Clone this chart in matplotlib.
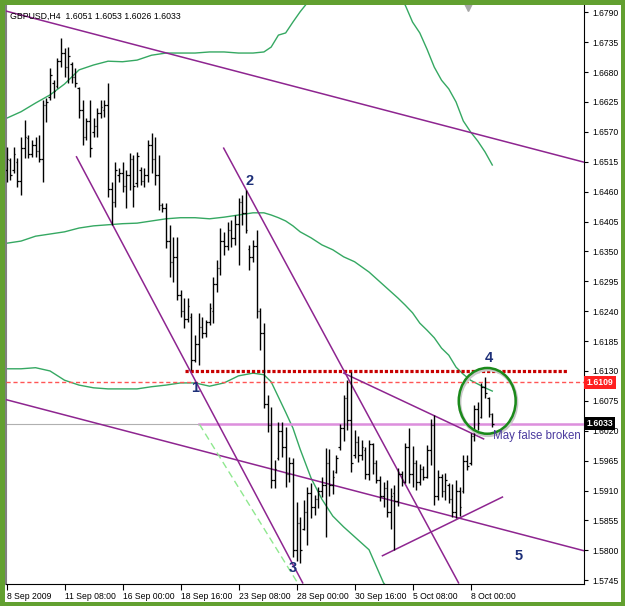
import matplotlib
matplotlib.use("Agg")
import matplotlib.pyplot as plt
from matplotlib.patches import Ellipse, Rectangle
import matplotlib.transforms as mtransforms

plt.rcParams['font.family'] = ['Liberation Sans', 'DejaVu Sans']

# ---------------- data ----------------
title_text = "GBPUSD,H4  1.6051 1.6053 1.6026 1.6033"

opens = [1.6500, 1.6518, 1.6500, 1.6515, 1.6480, 1.6540, 1.6558, 1.6530, 1.6545, 1.6535,
         1.6520, 1.6620, 1.6635, 1.6660, 1.6655, 1.6700, 1.6715, 1.6690, 1.6695, 1.6670,
         1.6650, 1.6610, 1.6560, 1.6590, 1.6570, 1.6580, 1.6605, 1.6610, 1.6620, 1.6465,
         1.6440, 1.6490, 1.6495, 1.6470, 1.6490, 1.6520, 1.6475, 1.6500, 1.6480, 1.6490,
         1.6545, 1.6520, 1.6490, 1.6435, 1.6430, 1.6370, 1.6330, 1.6340, 1.6270, 1.6240,
         1.6225, 1.6230, 1.6150, 1.6180, 1.6210, 1.6200, 1.6220, 1.6240, 1.6290, 1.6320,
         1.6370, 1.6360, 1.6390, 1.6375, 1.6400, 1.6440, 1.6420, 1.6355, 1.6340, 1.6360,
         1.6240, 1.6200, 1.6070, 1.6030, 1.5930, 1.5970, 1.6020, 1.5990, 1.5940, 1.5960,
         1.5800, 1.5850, 1.5840, 1.5870, 1.5905, 1.5880, 1.5895, 1.5910, 1.5920, 1.5960,
         1.5920, 1.5945, 1.5990, 1.6025, 1.6080, 1.6040, 1.5975, 1.6000, 1.5975, 1.5985,
         1.5940, 1.5995, 1.5960, 1.5930, 1.5900, 1.5915, 1.5870, 1.5905, 1.5890, 1.5940,
         1.5925, 1.5990, 1.5940, 1.5960, 1.5925, 1.5950, 1.5935, 1.5985, 1.6030, 1.5900,
         1.5935, 1.5910, 1.5920, 1.5895, 1.5870, 1.5910, 1.5910, 1.5965, 1.5960, 1.6010,
         1.6060, 1.6045, 1.6100, 1.6080, 1.6051]
highs = [1.6542, 1.6522, 1.6542, 1.6522, 1.6561, 1.6592, 1.6564, 1.6555, 1.6561, 1.6564,
         1.6629, 1.6632, 1.6687, 1.6665, 1.6706, 1.6743, 1.6724, 1.6726, 1.6699, 1.6687,
         1.6653, 1.6629, 1.6595, 1.6629, 1.6595, 1.6614, 1.6629, 1.6629, 1.6660, 1.6478,
         1.6515, 1.6503, 1.6515, 1.6500, 1.6531, 1.6527, 1.6533, 1.6505, 1.6503, 1.6555,
         1.6568, 1.6561, 1.6527, 1.6439, 1.6439, 1.6399, 1.6377, 1.6377, 1.6279, 1.6264,
         1.6264, 1.6237, 1.6196, 1.6237, 1.6229, 1.6224, 1.6255, 1.6303, 1.6334, 1.6393,
         1.6386, 1.6404, 1.6408, 1.6417, 1.6448, 1.6454, 1.6463, 1.6362, 1.6371, 1.6389,
         1.6246, 1.6218, 1.6086, 1.6064, 1.5966, 1.6036, 1.6036, 1.6027, 1.5972, 1.5970,
         1.5889, 1.5861, 1.5893, 1.5917, 1.5924, 1.5902, 1.5917, 1.5935, 1.5988, 1.5986,
         1.5948, 1.5975, 1.6032, 1.6086, 1.6113, 1.6128, 1.6021, 1.6010, 1.6003, 1.5990,
         1.6003, 1.5997, 1.5966, 1.5937, 1.5926, 1.5929, 1.5915, 1.5920, 1.5952, 1.5946,
         1.5997, 1.6025, 1.5992, 1.5966, 1.5959, 1.5955, 1.5994, 1.6042, 1.6049, 1.5948,
         1.5940, 1.5942, 1.5924, 1.5922, 1.5929, 1.5917, 1.5975, 1.5975, 1.6016, 1.6067,
         1.6073, 1.6108, 1.6119, 1.6082, 1.6053]
lows = [1.6478, 1.6481, 1.6494, 1.6469, 1.6454, 1.6522, 1.6522, 1.6524, 1.6524, 1.6515,
        1.6478, 1.6588, 1.6629, 1.6632, 1.6651, 1.6689, 1.6671, 1.6660, 1.6660, 1.6653,
        1.6595, 1.6546, 1.6555, 1.6524, 1.6561, 1.6561, 1.6595, 1.6597, 1.6450, 1.6399,
        1.6432, 1.6478, 1.6459, 1.6430, 1.6463, 1.6432, 1.6469, 1.6472, 1.6469, 1.6478,
        1.6494, 1.6472, 1.6426, 1.6423, 1.6356, 1.6303, 1.6294, 1.6261, 1.6229, 1.6209,
        1.6220, 1.6132, 1.6147, 1.6141, 1.6191, 1.6192, 1.6215, 1.6218, 1.6275, 1.6307,
        1.6343, 1.6353, 1.6358, 1.6362, 1.6325, 1.6399, 1.6384, 1.6316, 1.6330, 1.6228,
        1.6169, 1.6062, 1.6018, 1.5915, 1.5915, 1.5966, 1.5972, 1.5917, 1.5926, 1.5788,
        1.5780, 1.5776, 1.5837, 1.5810, 1.5860, 1.5865, 1.5878, 1.5898, 1.5825, 1.5900,
        1.5904, 1.5942, 1.5985, 1.6001, 1.6021, 1.5944, 1.5970, 1.5962, 1.5966, 1.5931,
        1.5929, 1.5940, 1.5924, 1.5891, 1.5880, 1.5861, 1.5839, 1.5801, 1.5882, 1.5918,
        1.5924, 1.5924, 1.5917, 1.5911, 1.5920, 1.5929, 1.5933, 1.5957, 1.5883, 1.5893,
        1.5898, 1.5893, 1.5887, 1.5861, 1.5860, 1.5863, 1.5906, 1.5948, 1.5957, 1.6001,
        1.6021, 1.6043, 1.6080, 1.6045, 1.6026]
closes = [1.6520, 1.6490, 1.6530, 1.6480, 1.6540, 1.6560, 1.6530, 1.6545, 1.6535, 1.6520,
          1.6620, 1.6625, 1.6675, 1.6645, 1.6700, 1.6715, 1.6690, 1.6710, 1.6670, 1.6660,
          1.6610, 1.6560, 1.6590, 1.6540, 1.6580, 1.6605, 1.6615, 1.6620, 1.6465, 1.6440,
          1.6500, 1.6495, 1.6470, 1.6490, 1.6520, 1.6470, 1.6525, 1.6480, 1.6490, 1.6545,
          1.6520, 1.6490, 1.6435, 1.6430, 1.6370, 1.6330, 1.6340, 1.6270, 1.6240, 1.6225,
          1.6250, 1.6150, 1.6180, 1.6210, 1.6200, 1.6220, 1.6245, 1.6290, 1.6320, 1.6370,
          1.6360, 1.6390, 1.6375, 1.6400, 1.6440, 1.6420, 1.6390, 1.6340, 1.6360, 1.6240,
          1.6200, 1.6070, 1.6030, 1.5930, 1.5950, 1.6020, 1.5990, 1.5940, 1.5960, 1.5800,
          1.5850, 1.5800, 1.5870, 1.5905, 1.5880, 1.5895, 1.5910, 1.5920, 1.5960, 1.5920,
          1.5935, 1.5970, 1.6025, 1.6080, 1.6040, 1.5960, 1.6000, 1.5975, 1.5990, 1.5940,
          1.5995, 1.5960, 1.5930, 1.5900, 1.5915, 1.5870, 1.5900, 1.5890, 1.5940, 1.5925,
          1.5990, 1.5940, 1.5960, 1.5925, 1.5950, 1.5935, 1.5985, 1.6030, 1.5900, 1.5935,
          1.5910, 1.5930, 1.5895, 1.5870, 1.5910, 1.5880, 1.5965, 1.5955, 1.6010, 1.6060,
          1.6035, 1.6100, 1.6090, 1.6050, 1.6033]

# Bollinger bands (bar index, upper / middle / lower)
bb_idx = [0, 4, 8, 12, 16, 20, 24, 28, 32, 36, 40, 44, 48, 52, 56, 60, 64, 68,
          71, 73, 75, 77, 79, 81, 84, 87, 90, 93, 96, 100, 104, 108,
          110, 112, 114, 116, 118, 120, 122, 124, 126, 128, 130, 132, 134]
bb_upper = [1.6595, 1.6607, 1.6623, 1.6638, 1.6658, 1.6684, 1.6693, 1.6700, 1.6699, 1.6702,
            1.6711, 1.6715, 1.6715, 1.6715, 1.6717, 1.6717, 1.6715, 1.6715,
            1.6717, 1.6726, 1.6748, 1.6752, 1.6772, 1.6791, 1.6816, 1.6829, 1.6842, 1.6837,
            1.6837, 1.6824, 1.6837, 1.6820,
            1.6803, 1.6772, 1.6752, 1.6722, 1.6689, 1.6665, 1.6649, 1.6625, 1.6590, 1.6570,
            1.6553, 1.6533, 1.6509]
bb_middle = [1.6365, 1.6369, 1.6378, 1.6382, 1.6386, 1.6393, 1.6397, 1.6399, 1.6401, 1.6402,
             1.6406, 1.6410, 1.6412, 1.6412, 1.6410, 1.6413, 1.6417, 1.6421,
             1.6421, 1.6417, 1.6412, 1.6406, 1.6397, 1.6386, 1.6375, 1.6362, 1.6353, 1.6340,
             1.6331, 1.6312, 1.6288, 1.6264,
             1.6251, 1.6237, 1.6218, 1.6205, 1.6191, 1.6172, 1.6159, 1.6137, 1.6124, 1.6113,
             1.6106, 1.6099, 1.6093]
bb_lower = [1.6134, 1.6134, 1.6136, 1.6130, 1.6113, 1.6104, 1.6099, 1.6097, 1.6097, 1.6097,
            1.6101, 1.6104, 1.6108, 1.6108, 1.6102, 1.6108, 1.6121, 1.6126,
            1.6123, 1.6110, 1.6082, 1.6054, 1.6025, 1.5986, 1.5933, 1.5894, 1.5863, 1.5843,
            1.5825, 1.5801, 1.5740, 1.5709,
            1.5700, 1.5702, 1.5687, 1.5688, 1.5692, 1.5679, 1.5670, 1.5650, 1.5659, 1.5657,
            1.5659, 1.5664, 1.5677]

# trend lines: (start index, start price, end index, end price)
trend_lines = [
    (0.0, 1.6792, 159.4, 1.6514),
    (19.3, 1.6524, 81.7, 1.5740),
    (59.9, 1.6540, 124.7, 1.5740),
    (93.0, 1.6126, 131.6, 1.6005),
    (0.0, 1.6077, 159.4, 1.5799),
    (103.7, 1.5790, 136.8, 1.5898),
]
dashed_green_line = (53.2, 1.6032, 80.3, 1.5740)

resist_level = 1.6130
resist_span = (49.3, 155.0)
alert_level = 1.6109
bid_level = 1.6033
pink_start = 53.2

wave_labels = ["1", "2", "3", "4", "5"]
wave_x = [51.9, 67.0, 78.9, 133.0, 141.2]
wave_y = [1.6099, 1.6480, 1.5768, 1.6154, 1.5790]

note_text = "May false broken"
note_pos = (134.3, 1.6010)
circle_center = (132.6, 1.6075)
circle_size = (15.7, 0.0121)

yticks = [1.6790, 1.6735, 1.6680, 1.6625, 1.6570, 1.6515, 1.6460, 1.6405, 1.6350, 1.6295,
          1.6240, 1.6185, 1.6130, 1.6075, 1.6020, 1.5965, 1.5910, 1.5855, 1.5800, 1.5745]
xtick_pos = [0, 16, 32, 48, 64, 80, 96, 112, 128]
xtick_labels = ["8 Sep 2009", "11 Sep 08:00", "16 Sep 00:00", "18 Sep 16:00", "23 Sep 08:00",
                "28 Sep 00:00", "30 Sep 16:00", "5 Oct 08:00", "8 Oct 00:00"]

# ---------------- figure ----------------
W, H = 625, 606
fig = plt.figure(figsize=(W / 100, H / 100), dpi=100)
fig.patch.set_facecolor('white')
ax = fig.add_axes([6 / W, 22 / H, 578 / W, 579 / H])
ax.set_facecolor('white')
ax.set_xlim(-0.15, 159.3)
ax.set_ylim(1.57380, 1.68034)

green_line = '#35a862'
purple = '#8e2590'

# Bollinger
ax.plot(bb_idx, bb_upper, color=green_line, lw=1.0, zorder=2)
ax.plot(bb_idx, bb_middle, color=green_line, lw=1.0, zorder=2)
ax.plot(bb_idx, bb_lower, color=green_line, lw=1.0, zorder=2)

# bars
n = len(closes)
idx = list(range(n))
ax.vlines(idx, lows, highs, color='black', lw=1.0, zorder=4)
ax.hlines(opens, [i - 0.45 for i in idx], idx, color='black', lw=0.9, zorder=4)
ax.hlines(closes, idx, [i + 0.45 for i in idx], color='black', lw=0.9, zorder=4)

# horizontal lines
ax.axhline(bid_level, color='#b0b0b0', lw=0.8, zorder=1)
ax.plot([pink_start, 159.3], [bid_level, bid_level], color='#dd8fdd', lw=1.8, zorder=3)
ax.axhline(alert_level, color='#ff5555', lw=1.0, ls=(0, (3, 2)), zorder=3)
ax.plot(resist_span, [resist_level, resist_level], color='#c80000', lw=2.3,
        ls=(0, (1, 0.6)), zorder=3)

# trend lines
for x0, y0, x1, y1 in trend_lines:
    ax.plot([x0, x1], [y0, y1], color=purple, lw=1.1, zorder=3)
ax.plot([dashed_green_line[0], dashed_green_line[2]], [dashed_green_line[1], dashed_green_line[3]],
        color='#8fe88f', lw=1.0, ls=(0, (5, 3)), zorder=3)

# ellipse
ax.add_patch(Ellipse((circle_center[0] + 0.25, circle_center[1] - 0.0003), circle_size[0], circle_size[1],
                     fill=False, edgecolor='#c8c8c8', lw=2.5, zorder=4))
ax.add_patch(Ellipse(circle_center, circle_size[0], circle_size[1],
                     fill=False, edgecolor='#1b8a1b', lw=1.8, zorder=5))

# wave labels
for t, x, y in zip(wave_labels, wave_x, wave_y):
    ax.text(x, y, t, color='#1d2f78', fontsize=10.5, fontweight='bold', ha='center', va='center', zorder=6)
ax.text(note_pos[0], note_pos[1], note_text, color='#4a3a9e', fontsize=8.3, ha='left', va='center', zorder=6)

# title
ax.text(0.007, 0.988, title_text, transform=ax.transAxes, fontsize=6.3, ha='left', va='top', color='black')

# shift marker
ax.plot([127.2], [1.6800], marker='v', color='#a8a8a8', ms=6, clip_on=False, zorder=6)

# axes styling
ax.yaxis.tick_right()
ax.set_yticks(yticks)
ax.set_yticklabels(["%.4f" % v for v in yticks])
ax.set_xticks(xtick_pos)
ax.set_xticklabels(xtick_labels)
for lbl in ax.get_xticklabels():
    lbl.set_ha('left')
ax.tick_params(axis='y', direction='out', length=3, width=0.8, labelsize=6.2, pad=3, colors='black')
ax.tick_params(axis='x', direction='out', length=4, width=0.8, labelsize=6.2, pad=2, colors='black')
for s in ['left']:
    ax.spines[s].set_color('#808080')
    ax.spines[s].set_linewidth(1.5)
ax.spines['top'].set_visible(False)
ax.spines['bottom'].set_color('black')
ax.spines['right'].set_color('black')
ax.spines['bottom'].set_linewidth(0.8)
ax.spines['right'].set_linewidth(0.8)

# price label boxes on the right
trans = mtransforms.blended_transform_factory(ax.transAxes, ax.transData)
ax.text(1.0045, alert_level, "%.4f" % alert_level, transform=trans, fontsize=6.2, color='white',
        ha='left', va='center', fontweight='bold',
        bbox=dict(boxstyle='square,pad=0.25', facecolor='#ff2020', edgecolor='none'), zorder=7, clip_on=False)
ax.text(1.0045, bid_level, "%.4f" % bid_level, transform=trans, fontsize=6.2, color='white',
        ha='left', va='center', fontweight='bold',
        bbox=dict(boxstyle='square,pad=0.25', facecolor='black', edgecolor='none'), zorder=7, clip_on=False)

# green frame around the whole picture
border = '#62a030'
b = 4.5
for (x, y, w, h) in [(0, 0, b / W, 1), (1 - b / W, 0, b / W, 1), (0, 0, 1, b / H), (0, 1 - b / H, 1, b / H)]:
    fig.patches.append(Rectangle((x, y), w, h, transform=fig.transFigure, facecolor=border,
                                 edgecolor='none', zorder=10))

fig.savefig('out.png', dpi=100)
